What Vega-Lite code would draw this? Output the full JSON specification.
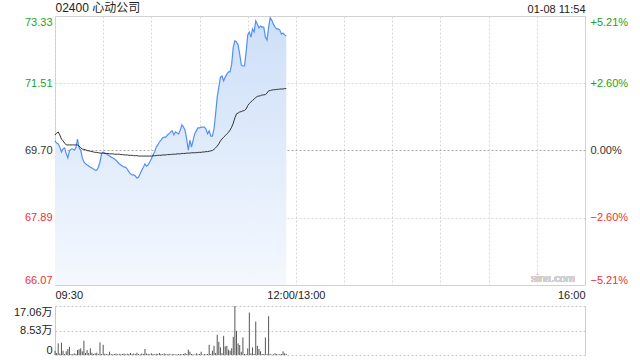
{
  "$schema": "https://vega.github.io/schema/vega-lite/v6.json",
  "padding": {"left": 0, "top": 0, "right": 0, "bottom": 0},
  "background": "white",
  "spacing": 3,
  "config": {
    "font": "Liberation Sans, Noto Sans CJK SC",
    "axis": {"labelFont": "Liberation Sans, Noto Sans CJK SC", "labelFontSize": 11, "ticks": false, "domain": false},
    "view": {"stroke": "#ccc"}
  },
  "data": {"values": [
    {"minute":0,"price":69.96,"avg":70.12,"volume":14900},
    {"minute":1,"price":69.90,"avg":70.17,"volume":6900},
    {"minute":2,"price":69.88,"avg":70.20,"volume":40500},
    {"minute":3,"price":69.79,"avg":70.12,"volume":5200},
    {"minute":4,"price":69.66,"avg":70.01,"volume":42600},
    {"minute":5,"price":69.74,"avg":69.96,"volume":14900},
    {"minute":6,"price":69.77,"avg":69.90,"volume":3500},
    {"minute":7,"price":69.61,"avg":69.85,"volume":12800},
    {"minute":8,"price":69.50,"avg":69.85,"volume":20800},
    {"minute":9,"price":69.69,"avg":69.85,"volume":28700},
    {"minute":10,"price":69.74,"avg":69.85,"volume":3500},
    {"minute":11,"price":69.74,"avg":69.85,"volume":2800},
    {"minute":12,"price":69.71,"avg":69.85,"volume":5900},
    {"minute":13,"price":69.77,"avg":69.85,"volume":3500},
    {"minute":14,"price":70.01,"avg":69.85,"volume":17300},
    {"minute":15,"price":69.77,"avg":69.82,"volume":19700},
    {"minute":16,"price":69.71,"avg":69.77,"volume":23200},
    {"minute":17,"price":69.50,"avg":69.74,"volume":12800},
    {"minute":18,"price":69.39,"avg":69.73,"volume":49500},
    {"minute":19,"price":69.34,"avg":69.72,"volume":6900},
    {"minute":20,"price":69.31,"avg":69.70,"volume":17300},
    {"minute":21,"price":69.28,"avg":69.69,"volume":6900},
    {"minute":22,"price":69.25,"avg":69.68,"volume":23200},
    {"minute":23,"price":69.23,"avg":69.67,"volume":8000},
    {"minute":24,"price":69.20,"avg":69.66,"volume":3500},
    {"minute":25,"price":69.17,"avg":69.65,"volume":5900},
    {"minute":26,"price":69.17,"avg":69.65,"volume":8000},
    {"minute":27,"price":69.25,"avg":69.64,"volume":3500},
    {"minute":28,"price":69.39,"avg":69.63,"volume":43900},
    {"minute":29,"price":69.61,"avg":69.63,"volume":3500},
    {"minute":30,"price":69.66,"avg":69.63,"volume":35600},
    {"minute":31,"price":69.63,"avg":69.62,"volume":4200},
    {"minute":32,"price":69.61,"avg":69.62,"volume":3500},
    {"minute":33,"price":69.58,"avg":69.62,"volume":2800},
    {"minute":34,"price":69.55,"avg":69.61,"volume":11400},
    {"minute":35,"price":69.52,"avg":69.61,"volume":3500},
    {"minute":36,"price":69.50,"avg":69.61,"volume":2400},
    {"minute":37,"price":69.47,"avg":69.60,"volume":3500},
    {"minute":38,"price":69.44,"avg":69.60,"volume":5200},
    {"minute":39,"price":69.39,"avg":69.60,"volume":2400},
    {"minute":40,"price":69.34,"avg":69.60,"volume":4200},
    {"minute":41,"price":69.31,"avg":69.59,"volume":2800},
    {"minute":42,"price":69.28,"avg":69.59,"volume":3500},
    {"minute":43,"price":69.25,"avg":69.58,"volume":5200},
    {"minute":44,"price":69.25,"avg":69.58,"volume":2400},
    {"minute":45,"price":69.20,"avg":69.58,"volume":4500},
    {"minute":46,"price":69.12,"avg":69.57,"volume":3500},
    {"minute":47,"price":69.07,"avg":69.57,"volume":6900},
    {"minute":48,"price":69.04,"avg":69.57,"volume":2800},
    {"minute":49,"price":69.04,"avg":69.56,"volume":5200},
    {"minute":50,"price":69.01,"avg":69.56,"volume":3500},
    {"minute":51,"price":68.96,"avg":69.56,"volume":8000},
    {"minute":52,"price":68.98,"avg":69.55,"volume":3500},
    {"minute":53,"price":69.07,"avg":69.55,"volume":2400},
    {"minute":54,"price":69.17,"avg":69.55,"volume":5200},
    {"minute":55,"price":69.25,"avg":69.55,"volume":3500},
    {"minute":56,"price":69.34,"avg":69.55,"volume":20800},
    {"minute":57,"price":69.28,"avg":69.55,"volume":5200},
    {"minute":58,"price":69.31,"avg":69.55,"volume":3500},
    {"minute":59,"price":69.39,"avg":69.55,"volume":2800},
    {"minute":60,"price":69.47,"avg":69.55,"volume":5900},
    {"minute":61,"price":69.58,"avg":69.56,"volume":3500},
    {"minute":62,"price":69.66,"avg":69.56,"volume":2400},
    {"minute":63,"price":69.79,"avg":69.56,"volume":4500},
    {"minute":64,"price":69.85,"avg":69.57,"volume":3500},
    {"minute":65,"price":69.93,"avg":69.57,"volume":6900},
    {"minute":66,"price":69.98,"avg":69.57,"volume":3500},
    {"minute":67,"price":70.04,"avg":69.58,"volume":2800},
    {"minute":68,"price":70.06,"avg":69.58,"volume":5200},
    {"minute":69,"price":70.06,"avg":69.58,"volume":3500},
    {"minute":70,"price":70.12,"avg":69.59,"volume":2800},
    {"minute":71,"price":70.15,"avg":69.59,"volume":4200},
    {"minute":72,"price":70.20,"avg":69.59,"volume":1700},
    {"minute":73,"price":70.23,"avg":69.60,"volume":2800},
    {"minute":74,"price":70.12,"avg":69.60,"volume":3500},
    {"minute":75,"price":70.20,"avg":69.60,"volume":1700},
    {"minute":76,"price":70.17,"avg":69.61,"volume":2400},
    {"minute":77,"price":70.15,"avg":69.61,"volume":3500},
    {"minute":78,"price":70.25,"avg":69.61,"volume":3500},
    {"minute":79,"price":70.39,"avg":69.62,"volume":2400},
    {"minute":80,"price":70.33,"avg":69.62,"volume":3500},
    {"minute":81,"price":70.25,"avg":69.62,"volume":6900},
    {"minute":82,"price":70.01,"avg":69.63,"volume":3500},
    {"minute":83,"price":69.71,"avg":69.63,"volume":18300},
    {"minute":84,"price":69.98,"avg":69.63,"volume":11400},
    {"minute":85,"price":69.79,"avg":69.64,"volume":3500},
    {"minute":86,"price":69.98,"avg":69.64,"volume":2400},
    {"minute":87,"price":70.15,"avg":69.64,"volume":1700},
    {"minute":88,"price":70.23,"avg":69.64,"volume":5900},
    {"minute":89,"price":70.31,"avg":69.65,"volume":2800},
    {"minute":90,"price":70.31,"avg":69.65,"volume":3500},
    {"minute":91,"price":70.33,"avg":69.65,"volume":11400},
    {"minute":92,"price":70.33,"avg":69.66,"volume":1700},
    {"minute":93,"price":70.33,"avg":69.66,"volume":3500},
    {"minute":94,"price":70.28,"avg":69.67,"volume":2400},
    {"minute":95,"price":70.15,"avg":69.67,"volume":3500},
    {"minute":96,"price":70.23,"avg":69.68,"volume":35600},
    {"minute":97,"price":70.09,"avg":69.69,"volume":3500},
    {"minute":98,"price":70.09,"avg":69.70,"volume":14900},
    {"minute":99,"price":70.28,"avg":69.73,"volume":32200},
    {"minute":100,"price":70.69,"avg":69.77,"volume":6900},
    {"minute":101,"price":71.14,"avg":69.82,"volume":70200},
    {"minute":102,"price":71.41,"avg":69.88,"volume":46000},
    {"minute":103,"price":71.68,"avg":69.96,"volume":26600},
    {"minute":104,"price":71.71,"avg":70.01,"volume":5900},
    {"minute":105,"price":71.58,"avg":70.06,"volume":66800},
    {"minute":106,"price":71.68,"avg":70.10,"volume":30100},
    {"minute":107,"price":71.76,"avg":70.15,"volume":32200},
    {"minute":108,"price":71.82,"avg":70.19,"volume":18300},
    {"minute":109,"price":71.82,"avg":70.25,"volume":14900},
    {"minute":110,"price":72.03,"avg":70.33,"volume":23200},
    {"minute":111,"price":72.49,"avg":70.44,"volume":63300},
    {"minute":112,"price":72.66,"avg":70.58,"volume":170600},
    {"minute":113,"price":72.63,"avg":70.69,"volume":84100},
    {"minute":114,"price":72.55,"avg":70.71,"volume":40500},
    {"minute":115,"price":72.30,"avg":70.74,"volume":34600},
    {"minute":116,"price":72.01,"avg":70.75,"volume":11400},
    {"minute":117,"price":71.98,"avg":70.77,"volume":61200},
    {"minute":118,"price":71.98,"avg":70.78,"volume":3500},
    {"minute":119,"price":72.36,"avg":70.82,"volume":3500},
    {"minute":120,"price":72.82,"avg":70.91,"volume":23200},
    {"minute":121,"price":72.90,"avg":70.97,"volume":147700},
    {"minute":122,"price":72.76,"avg":71.01,"volume":5900},
    {"minute":123,"price":72.98,"avg":71.05,"volume":26600},
    {"minute":124,"price":72.90,"avg":71.09,"volume":3500},
    {"minute":125,"price":73.20,"avg":71.13,"volume":116600},
    {"minute":126,"price":73.11,"avg":71.16,"volume":32200},
    {"minute":127,"price":73.01,"avg":71.17,"volume":20800},
    {"minute":128,"price":73.06,"avg":71.18,"volume":12800},
    {"minute":129,"price":73.03,"avg":71.20,"volume":3500},
    {"minute":130,"price":73.03,"avg":71.20,"volume":3500},
    {"minute":131,"price":72.76,"avg":71.21,"volume":61200},
    {"minute":132,"price":72.68,"avg":71.25,"volume":3500},
    {"minute":133,"price":73.03,"avg":71.31,"volume":134900},
    {"minute":134,"price":73.28,"avg":71.32,"volume":3500},
    {"minute":135,"price":73.22,"avg":71.33,"volume":1700},
    {"minute":136,"price":73.11,"avg":71.34,"volume":2400},
    {"minute":137,"price":73.03,"avg":71.34,"volume":5900},
    {"minute":138,"price":72.98,"avg":71.35,"volume":3500},
    {"minute":139,"price":72.98,"avg":71.35,"volume":2400},
    {"minute":140,"price":72.95,"avg":71.36,"volume":2800},
    {"minute":141,"price":72.84,"avg":71.36,"volume":3500},
    {"minute":142,"price":72.87,"avg":71.36,"volume":12800},
    {"minute":143,"price":72.82,"avg":71.37,"volume":5900},
    {"minute":144,"price":72.79,"avg":71.37,"volume":3500}
  ]},
  "vconcat": [
    {
      "width": 530,
      "height": 269,
      "layer": [
        {
          "mark": {"type": "area", "color": {"gradient": "linear", "x1": 0, "y1": 0, "x2": 0, "y2": 1, "stops": [{"offset": 0, "color": "#cddff8"}, {"offset": 1, "color": "#f4f8fe"}]}},
          "encoding": {
            "x": {"field": "minute", "type": "quantitative", "scale": {"domain": [0, 330], "nice": false, "zero": false},
              "axis": {"orient": "bottom", "title": null, "values": [0, 30, 60, 90, 120, 150, 180, 210, 240, 270, 300, 330],
                "labelExpr": "datum.value == 0 ? '09:30' : datum.value == 150 ? '12:00/13:00' : datum.value == 330 ? '16:00' : ''",
                "labelFlush": true, "labelOverlap": false, "labelPadding": 4, "minExtent": 16, "maxExtent": 16,
                "labelColor": "#222222",
                "grid": true, "gridColor": "#d8d8d8", "gridDash": [2, 2]}},
            "y": {"field": "price", "type": "quantitative", "scale": {"domain": [66.07, 73.33], "nice": false, "zero": false},
              "axis": {"orient": "left", "title": null, "values": [66.07, 67.89, 69.70, 71.51, 73.33], "format": ".2f",
                "labelFlush": true, "labelOverlap": false, "labelPadding": 3, "minExtent": 54, "maxExtent": 54,
                "labelColor": {"condition": [{"test": "datum.value > 69.71", "value": "#1ca21c"}, {"test": "datum.value < 69.69", "value": "#f03030"}], "value": "#333333"},
                "grid": true, "gridDash": [2, 2],
                "gridColor": {"condition": {"test": "abs(datum.value - 69.70) < 0.01", "value": "#a8a8a8"}, "value": "#d8d8d8"}}},
            "y2": {"datum": 66.07}
          }
        },
        {
          "mark": {"type": "line", "color": "#5590f0", "strokeWidth": 1.2},
          "encoding": {
            "x": {"field": "minute", "type": "quantitative",
              "axis": {"orient": "top", "title": null, "values": [0, 330],
                "labelExpr": "datum.value == 0 ? '02400 心动公司' : '01-08 11:54'",
                "labelFlush": true, "labelOverlap": false, "labelPadding": 2, "minExtent": 14, "maxExtent": 14, "grid": false,
                "labelColor": "#222222",
                "labelFontSize": {"condition": {"test": "datum.value == 0", "value": 12}, "value": 11}}},
            "y": {"field": "price", "type": "quantitative",
              "axis": {"orient": "right", "title": null, "values": [66.07, 67.89, 69.70, 71.51, 73.33],
                "labelExpr": "datum.value > 69.71 ? '+' + format((datum.value - 69.70) / 69.70 * 100, '.2f') + '%' : datum.value < 69.69 ? format((datum.value - 69.70) / 69.70 * 100, '.2f') + '%' : '0.00%'",
                "labelFlush": true, "labelOverlap": false, "labelPadding": 5, "grid": false,
                "labelColor": {"condition": [{"test": "datum.value > 69.71", "value": "#1ca21c"}, {"test": "datum.value < 69.69", "value": "#f03030"}], "value": "#333333"}}}
          }
        },
        {
          "mark": {"type": "line", "color": "#333333", "strokeWidth": 1},
          "encoding": {
            "x": {"field": "minute", "type": "quantitative", "axis": null},
            "y": {"field": "avg", "type": "quantitative", "axis": null}
          }
        },
        {
          "mark": {"type": "text", "text": "sina.com", "align": "right", "baseline": "bottom", "color": "#cfcfcf", "fontSize": 11, "dx": -10, "dy": -1},
          "encoding": {
            "x": {"datum": 330, "type": "quantitative", "axis": null},
            "y": {"datum": 66.07, "type": "quantitative", "axis": null}
          }
        }
      ],
      "resolve": {"axis": {"x": "independent", "y": "independent"}}
    },
    {
      "width": 530,
      "height": 49,
      "view": {"stroke": null},
      "layer": [
        {
          "mark": {"type": "rule", "color": "#555555", "strokeWidth": 1},
          "encoding": {
            "x": {"field": "minute", "type": "quantitative", "scale": {"domain": [0, 330], "nice": false, "zero": false}, "axis": null},
            "y": {"field": "volume", "type": "quantitative", "scale": {"domain": [0, 170600], "nice": false},
              "axis": {"orient": "left", "title": null, "values": [0, 85300, 170600],
                "labelExpr": "datum.value == 0 ? '0' : format(datum.value / 10000, '.2f') + '万'",
                "labelFlush": true, "labelOverlap": false, "labelPadding": 3, "minExtent": 54, "maxExtent": 54,
                "labelColor": "#222222",
                "domain": true, "domainColor": "#cccccc",
                "grid": true, "gridColor": "#c8c8c8", "gridDash": [2, 2]}},
            "y2": {"datum": 0}
          }
        },
        {
          "mark": {"type": "rule", "opacity": 0},
          "encoding": {
            "x": {"field": "minute", "type": "quantitative", "axis": null},
            "y": {"field": "volume", "type": "quantitative",
              "axis": {"orient": "right", "title": null, "labels": false, "grid": false, "domain": true, "domainColor": "#cccccc"}}
          }
        }
      ],
      "resolve": {"axis": {"y": "independent"}}
    }
  ]
}
